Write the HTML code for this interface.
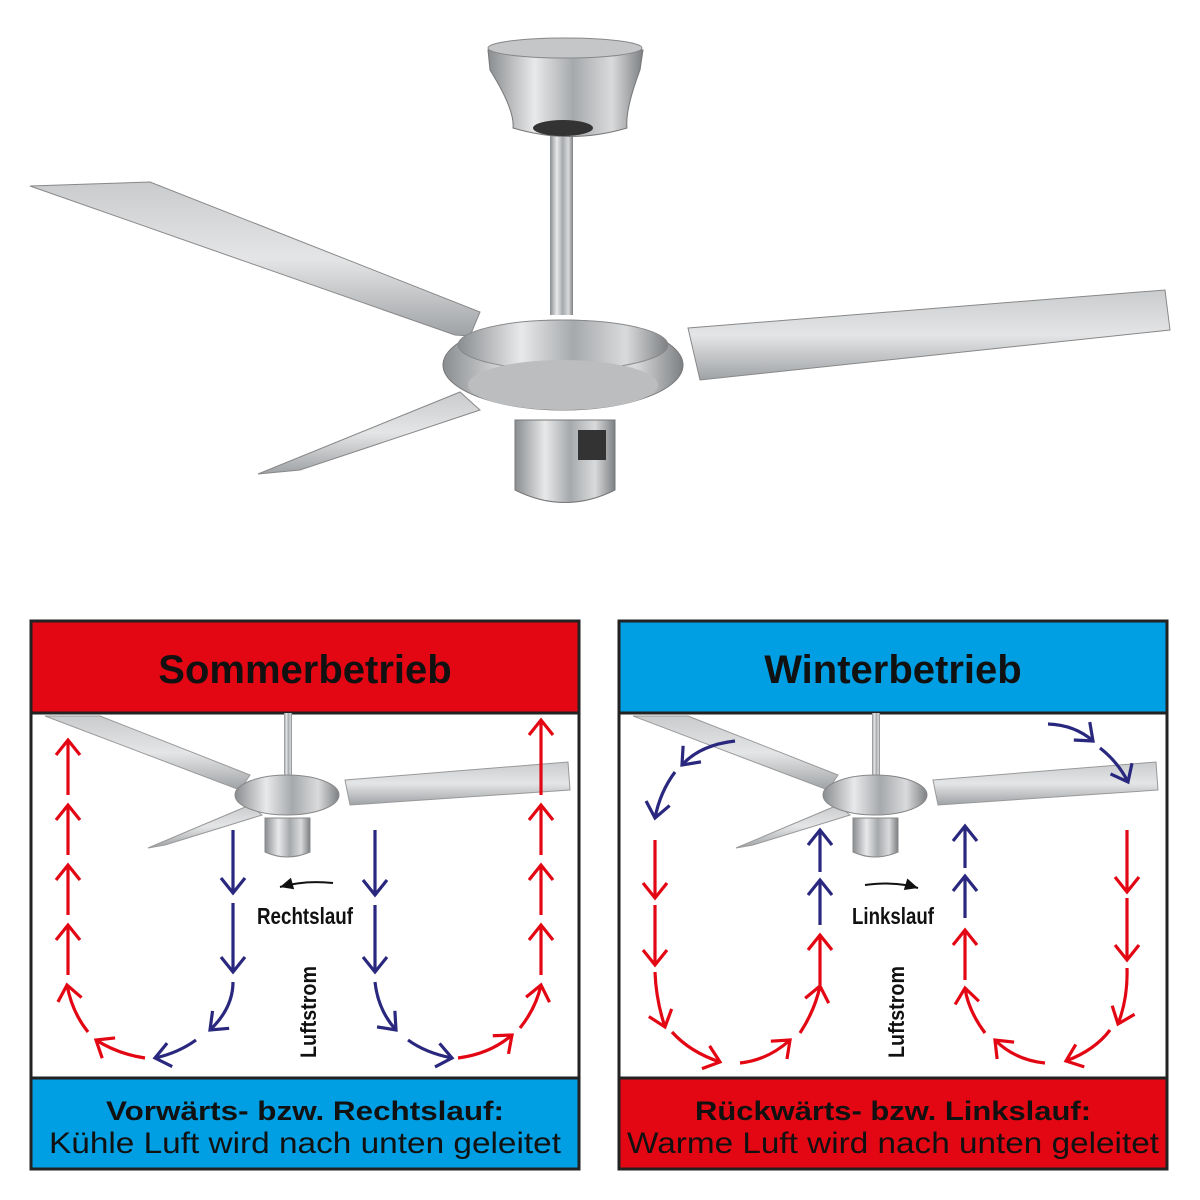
<!DOCTYPE html>
<html><head><meta charset="utf-8"><style>
body{margin:0;background:#fff;width:1200px;height:1200px;overflow:hidden}
svg{display:block}
text{font-family:"Liberation Sans",sans-serif}
</style></head><body>
<svg width="1200" height="1200" viewBox="0 0 1200 1200">
<defs>
<linearGradient id="m" x1="0" y1="0" x2="1" y2="0">
<stop offset="0" stop-color="#8a8d90"/><stop offset=".3" stop-color="#e8e9ea"/><stop offset=".55" stop-color="#a6a9ac"/><stop offset=".8" stop-color="#d9dadb"/><stop offset="1" stop-color="#7d8083"/></linearGradient>
<linearGradient id="b" x1="0" y1="0" x2="0" y2="1">
<stop offset="0" stop-color="#c9cbcd"/><stop offset=".5" stop-color="#e4e5e6"/><stop offset="1" stop-color="#9fa2a5"/></linearGradient>
<marker id="r" markerUnits="userSpaceOnUse" markerWidth="30" markerHeight="30" viewBox="0 0 30 30" refX="25" refY="15" orient="auto"><path d="M10,3 L25,15 L10,27" fill="none" stroke="#e30613" stroke-width="3.2"/></marker>
<marker id="u" markerUnits="userSpaceOnUse" markerWidth="30" markerHeight="30" viewBox="0 0 30 30" refX="25" refY="15" orient="auto"><path d="M10,3 L25,15 L10,27" fill="none" stroke="#29287e" stroke-width="3.2"/></marker>
<marker id="k" markerUnits="userSpaceOnUse" markerWidth="16" markerHeight="16" viewBox="0 0 16 16" refX="15" refY="8" orient="auto"><path d="M2,2 L15,8 L2,14 Z" fill="#111"/></marker>
</defs>

<!-- top fan -->
<g>
<polygon points="30,186 150,182 480,312 470,336 455,335" fill="url(#b)" stroke="#888" stroke-width="1"/>
<polygon points="258,474 460,392 480,410 300,470" fill="url(#b)" stroke="#888" stroke-width="1"/>
<polygon points="688,328 1165,290 1170,330 700,380" fill="url(#b)" stroke="#888" stroke-width="1"/>
<rect x="550" y="130" width="23" height="185" fill="url(#m)"/>
<path d="M488,50 L643,50 L640,70 Q625,110 627,128 Q570,145 513,128 Q515,110 490,70 Z" fill="url(#m)" stroke="#777"/>
<ellipse cx="565" cy="48" rx="77" ry="10" fill="#c4c6c8" stroke="#888"/>
<ellipse cx="563" cy="128" rx="30" ry="8" fill="#333"/>
<ellipse cx="563" cy="365" rx="120" ry="45" fill="url(#m)" stroke="#777"/>
<ellipse cx="563" cy="345" rx="105" ry="25" fill="url(#m)" stroke="#888"/>
<ellipse cx="563" cy="385" rx="95" ry="25" fill="#bbbdbf"/>
<path d="M515,420 L615,420 L615,490 Q565,515 515,490 Z" fill="url(#m)" stroke="#777"/>
<rect x="578" y="430" width="28" height="30" fill="#333"/>
</g>

<!-- panel 1 -->
<rect x="31" y="621" width="548" height="548" fill="#fff" stroke="#222" stroke-width="3"/>
<rect x="31" y="621" width="548" height="92" fill="#e30613" stroke="#222" stroke-width="3"/>
<rect x="31" y="1078" width="548" height="91" fill="#009fe3" stroke="#222" stroke-width="3"/>
<text x="305" y="683" text-anchor="middle" font-size="40" font-weight="bold" fill="#111">Sommerbetrieb</text>
<text x="305" y="1120" text-anchor="middle" font-size="27" font-weight="bold" fill="#111" textLength="398" lengthAdjust="spacingAndGlyphs">Vorwärts- bzw. Rechtslauf:</text>
<text x="305" y="1153" text-anchor="middle" font-size="30" fill="#111" textLength="512" lengthAdjust="spacingAndGlyphs">Kühle Luft wird nach unten geleitet</text>
<g>
<polygon points="45,716 100,716 250,775 240,790" fill="url(#b)" stroke="#999"/>
<polygon points="148,848 250,805 262,815 165,845" fill="url(#b)" stroke="#999"/>
<polygon points="345,780 568,762 570,790 350,805" fill="url(#b)" stroke="#999"/>
<rect x="284" y="713" width="8" height="70" fill="url(#m)"/>
<ellipse cx="287" cy="795" rx="52" ry="20" fill="url(#m)" stroke="#888"/>
<path d="M265,818 L310,818 L310,852 Q287,862 265,852 Z" fill="url(#m)" stroke="#888"/>
</g>
<g fill="none" stroke-width="3.2">
<g stroke="#e30613" marker-end="url(#r)">
<path d="M145,1058 Q118,1054 96,1040"/><path d="M88,1032 Q72,1012 67,985"/>
<path d="M68,975 L68,925"/><path d="M68,915 L68,865"/><path d="M68,855 L68,805"/><path d="M68,795 L68,740"/>
<path d="M458,1058 Q490,1054 512,1035"/><path d="M520,1028 Q536,1008 541,985"/>
<path d="M541,975 L541,925"/><path d="M541,915 L541,865"/><path d="M541,855 L541,805"/><path d="M541,795 L541,720"/>
</g>
<g stroke="#29287e" marker-end="url(#u)">
<path d="M233,830 L233,893"/><path d="M233,903 L233,972"/><path d="M233,982 Q233,1008 210,1030"/><path d="M196,1040 Q178,1053 155,1058"/>
<path d="M375,830 L375,895"/><path d="M375,905 L375,972"/><path d="M375,982 Q378,1010 396,1030"/><path d="M408,1040 Q426,1053 452,1058"/>
</g>
<path d="M333,883 Q305,880 280,887" stroke="#111" stroke-width="2" marker-end="url(#k)"/>
</g>
<text x="305" y="924" text-anchor="middle" font-size="23" font-weight="bold" fill="#111" textLength="96" lengthAdjust="spacingAndGlyphs">Rechtslauf</text>
<text transform="translate(316,1058) rotate(-90)" font-size="22" font-weight="bold" fill="#111" textLength="92" lengthAdjust="spacingAndGlyphs">Luftstrom</text>

<!-- panel 2 -->
<rect x="619" y="621" width="548" height="548" fill="#fff" stroke="#222" stroke-width="3"/>
<rect x="619" y="621" width="548" height="92" fill="#009fe3" stroke="#222" stroke-width="3"/>
<rect x="619" y="1078" width="548" height="91" fill="#e30613" stroke="#222" stroke-width="3"/>
<text x="893" y="683" text-anchor="middle" font-size="40" font-weight="bold" fill="#111">Winterbetrieb</text>
<text x="893" y="1120" text-anchor="middle" font-size="27" font-weight="bold" fill="#111" textLength="396" lengthAdjust="spacingAndGlyphs">Rückwärts- bzw. Linkslauf:</text>
<text x="893" y="1153" text-anchor="middle" font-size="30" fill="#111" textLength="532" lengthAdjust="spacingAndGlyphs">Warme Luft wird nach unten geleitet</text>
<g>
<polygon points="633,716 688,716 838,775 828,790" fill="url(#b)" stroke="#999"/>
<polygon points="736,848 838,805 850,815 753,845" fill="url(#b)" stroke="#999"/>
<polygon points="933,780 1156,762 1158,790 938,805" fill="url(#b)" stroke="#999"/>
<rect x="872" y="713" width="8" height="70" fill="url(#m)"/>
<ellipse cx="875" cy="795" rx="52" ry="20" fill="url(#m)" stroke="#888"/>
<path d="M853,818 L898,818 L898,852 Q875,862 853,852 Z" fill="url(#m)" stroke="#888"/>
</g>
<g fill="none" stroke-width="3.2">
<g stroke="#e30613" marker-end="url(#r)">
<path d="M655,840 L655,898"/><path d="M655,905 L655,965"/><path d="M655,972 Q656,1000 665,1027"/><path d="M672,1032 Q690,1052 720,1062"/>
<path d="M740,1063 Q768,1060 790,1040"/><path d="M800,1033 Q815,1010 820,986"/><path d="M820,985 L820,935"/>
<path d="M1127,830 L1127,892"/><path d="M1127,898 L1127,960"/><path d="M1127,968 Q1128,998 1118,1024"/><path d="M1110,1030 Q1095,1050 1066,1061"/>
<path d="M1045,1063 Q1015,1060 995,1040"/><path d="M985,1033 Q968,1010 965,988"/><path d="M965,980 L965,930"/>
</g>
<g stroke="#29287e" marker-end="url(#u)">
<path d="M820,925 L820,880"/><path d="M820,872 L820,830"/>
<path d="M965,918 L965,876"/><path d="M965,868 L965,826"/>
<path d="M735,741 Q700,745 682,765"/><path d="M675,772 Q660,792 655,818"/>
<path d="M1048,724 Q1075,725 1093,741"/><path d="M1100,748 Q1118,762 1128,782"/>
</g>
<path d="M865,885 Q895,881 918,888" stroke="#111" stroke-width="2" marker-end="url(#k)"/>
</g>
<text x="893" y="924" text-anchor="middle" font-size="23" font-weight="bold" fill="#111" textLength="82" lengthAdjust="spacingAndGlyphs">Linkslauf</text>
<text transform="translate(904,1058) rotate(-90)" font-size="22" font-weight="bold" fill="#111" textLength="92" lengthAdjust="spacingAndGlyphs">Luftstrom</text>
</svg>
</body></html>
